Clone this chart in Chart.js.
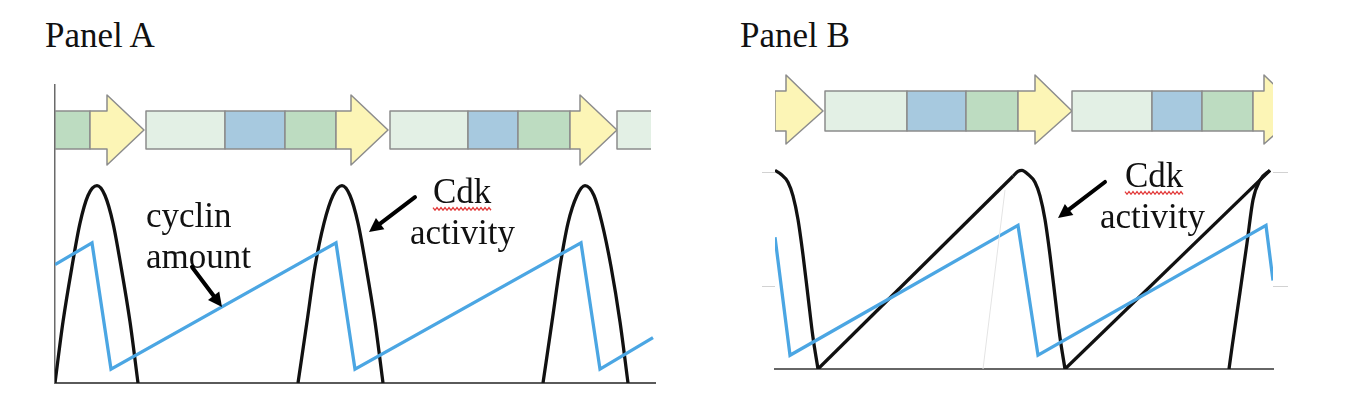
<!DOCTYPE html>
<html>
<head>
<meta charset="utf-8">
<script src="https://cdn.jsdelivr.net/npm/chart.js@4.4.1/dist/chart.umd.min.js"></script>
<style>
  body { margin: 0; background: #fff; width: 1345px; height: 410px; overflow: hidden; position: relative; }
  .title { position: absolute; top: 18px; font: 35px/1 "Liberation Serif", serif; color: #111; }
  canvas { position: absolute; top: 0; }
</style>
</head>
<body>
<div class="title" style="left:45px">Panel A</div>
<div class="title" style="left:740px">Panel B</div>
<canvas id="chartA" width="680" height="410" style="left:0"></canvas>
<canvas id="chartB" width="665" height="410" style="left:680px"></canvas>
<script>
// ---- Panel A data (time in arbitrary units, level in % of peak Cdk activity)
const aCyclinT = [0, 37, 56, 281, 300, 526, 545, 598];
const aCyclin = [60, 71, 7, 71, 7, 71, 7, 23];
const aPeak1T = [0, 8, 17, 25, 33, 42, 50, 58, 66, 75, 83];
const aPeak2T = [243, 252, 260, 269, 278, 287, 295, 303, 311, 320, 328];
const aPeak3T = [488, 497, 505, 513, 522, 530, 539, 547, 556, 565, 573];
const aPeakCdk = [0, 31, 59, 81, 95, 100, 95, 81, 59, 31, 0];
// cell cycle phases along the top
const aPhaseKind = ['G2', 'M', 'G1', 'S', 'G2', 'M', 'G1', 'S', 'G2', 'M', 'G1'];
const aPhaseStart = [0, 35, 91, 170, 230, 281, 335, 413, 463, 515, 562];
const aPhaseEnd = [35, 89, 170, 230, 281, 333, 413, 463, 515, 562, 640];

// ---- Panel B data
const bCyclinT = [0, 15, 243, 263, 491, 498];
const bCyclin = [67, 7, 73, 7, 73, 45];
const bFall1T = [0, 6, 13, 18, 23, 28, 33, 38, 43];
const bFall1 = [101, 99, 95, 88, 76, 58, 37, 16, 0];
const bRise1T = [43, 238];
const bRise1 = [0, 98];
const bFall2T = [238, 243, 247, 253, 260, 265, 270, 275, 280, 285, 290];
const bFall2 = [98, 100.5, 101, 99, 95, 88, 76, 58, 37, 16, 0];
const bRise2T = [290, 495];
const bRise2 = [0, 101];
const bRise3T = [454, 457, 465, 472, 478, 485, 495];
const bRise3 = [0, 11, 39, 64, 86, 96, 101];
const bGuideT = [208, 230];
const bGuide = [0, 91];
const bGridLevels = [42, 100];
const bPhaseKind = ['M', 'G1', 'S', 'G2', 'M', 'G1', 'S', 'G2', 'M'];
const bPhaseStart = [0, 50, 132, 191, 243, 297, 377, 427, 478];
const bPhaseEnd = [48, 132, 191, 243, 297, 377, 427, 478, 526];

// ---- annotations (in data units)
const aLabels = ['cyclin', 'amount', 'Cdk', 'activity'];
const aLabelT = [91, 91, 378, 355];
const aLabelLevel = [79, 58.3, 91.2, 70.4];
const aArrows = [[137, 58.8, 167, 38.5], [360, 94.2, 314, 76.5]];
const aSquiggle = [378, 437, 88.2];
const bLabels = ['Cdk', 'activity'];
const bLabelT = [350, 325];
const bLabelLevel = [92.5, 71.7];
const bArrows = [[330, 95.1, 283, 76.8]];
const bSquiggle = [350, 408, 89.5];

const BLUE = '#4ba6e3';
const BLACK = '#111';
const phaseColors = { G1: '#e3f0e5', S: '#a7c9df', G2: '#bddcc1', M: '#fcf5b6' };

function pts(t, v) {
  return t.map((x, i) => ({ x, y: v[i] }));
}

function line(t, v, color, curved, width) {
  return {
    data: pts(t, v),
    borderColor: color,
    borderWidth: width || 3.3,
    pointRadius: 0,
    fill: false,
    tension: 0,
    cubicInterpolationMode: curved ? 'monotone' : 'default'
  };
}

// Phase bar drawn with the chart's own scales
function phasePlugin(kinds, starts, ends, box) {
  return {
    id: 'phases',
    beforeDatasetsDraw(chart) {
      const { ctx, chartArea, scales: { x, y } } = chart;
      const bt = y.getPixelForValue(box.top), bb = y.getPixelForValue(box.bottom);
      const ht = y.getPixelForValue(box.headTop), hb = y.getPixelForValue(box.headBottom);
      const mid = (bt + bb) / 2;
      ctx.save();
      ctx.beginPath();
      ctx.rect(chartArea.left, 0, x.getPixelForValue(box.clipTo) - chartArea.left, chart.height);
      ctx.clip();
      ctx.lineWidth = 1.5;
      ctx.strokeStyle = '#8c8c8c';
      ctx.lineJoin = 'round';
      kinds.forEach((k, i) => {
        const x0 = x.getPixelForValue(starts[i]);
        const x1 = x.getPixelForValue(ends[i]);
        ctx.beginPath();
        if (k === 'M') {
          const xn = x.getPixelForValue(ends[i] - box.headLen);
          ctx.moveTo(x0, bt);
          ctx.lineTo(xn, bt);
          ctx.lineTo(xn, ht);
          ctx.lineTo(x1, mid);
          ctx.lineTo(xn, hb);
          ctx.lineTo(xn, bb);
          ctx.lineTo(x0, bb);
          ctx.closePath();
        } else {
          ctx.rect(x0, bt, x1 - x0, bb - bt);
        }
        ctx.fillStyle = phaseColors[k];
        ctx.fill();
        ctx.stroke();
      });
      ctx.restore();
    }
  };
}

// Labels, pointer arrows and the spell-check squiggle
function notePlugin(labels, lt, ll, arrows, squiggle) {
  return {
    id: 'notes',
    afterDatasetsDraw(chart) {
      const { ctx, scales: { x, y } } = chart;
      ctx.save();
      ctx.font = '35px "Liberation Serif", serif';
      ctx.fillStyle = '#111';
      ctx.textBaseline = 'alphabetic';
      labels.forEach((s, i) => ctx.fillText(s, x.getPixelForValue(lt[i]), y.getPixelForValue(ll[i])));

      // red wavy underline
      const sx0 = x.getPixelForValue(squiggle[0]), sx1 = x.getPixelForValue(squiggle[1]);
      const sy = y.getPixelForValue(squiggle[2]);
      ctx.beginPath();
      ctx.strokeStyle = '#e23a3a';
      ctx.lineWidth = 1.3;
      for (let px = sx0, k = 0; px <= sx1; px += 2, k++) {
        const py = sy + (k % 2 ? 1.3 : -1.3);
        if (k === 0) ctx.moveTo(px, py); else ctx.lineTo(px, py);
      }
      ctx.stroke();

      // arrows
      arrows.forEach(a => {
        const x0 = x.getPixelForValue(a[0]), y0 = y.getPixelForValue(a[1]);
        const x1 = x.getPixelForValue(a[2]), y1 = y.getPixelForValue(a[3]);
        const ang = Math.atan2(y1 - y0, x1 - x0);
        const hl = 14, hw = 7;
        const bx = x1 - hl * Math.cos(ang), by = y1 - hl * Math.sin(ang);
        ctx.beginPath();
        ctx.strokeStyle = '#000';
        ctx.lineWidth = 4;
        ctx.lineCap = 'round';
        ctx.moveTo(x0, y0);
        ctx.lineTo(bx, by);
        ctx.stroke();
        ctx.beginPath();
        ctx.fillStyle = '#000';
        ctx.moveTo(x1, y1);
        ctx.lineTo(bx + hw * Math.sin(ang), by - hw * Math.cos(ang));
        ctx.lineTo(bx - hw * Math.sin(ang), by + hw * Math.cos(ang));
        ctx.closePath();
        ctx.fill();
      });
      ctx.restore();
    }
  };
}

const hiddenTicks = { display: false };

// Panel A
new Chart(document.getElementById('chartA'), {
  type: 'line',
  data: {
    datasets: [
      line(aCyclinT, aCyclin, BLUE, false),
      line(aPeak1T, aPeakCdk, BLACK, true),
      line(aPeak2T, aPeakCdk, BLACK, true),
      line(aPeak3T, aPeakCdk, BLACK, true)
    ]
  },
  options: {
    responsive: false,
    animation: false,
    events: [],
    layout: { padding: { left: 55, right: 25, top: 85, bottom: 27 } },
    plugins: { legend: { display: false }, tooltip: { enabled: false } },
    scales: {
      x: {
        type: 'linear', min: 0, max: 600,
        ticks: hiddenTicks,
        grid: { drawOnChartArea: false, drawTicks: false },
        border: { color: '#5a5a5a', width: 2 }
      },
      y: {
        min: 0, max: 151,
        ticks: hiddenTicks,
        grid: { drawOnChartArea: false, drawTicks: false },
        border: { color: '#6a6a6a', width: 1.5 }
      }
    }
  },
  plugins: [
    phasePlugin(aPhaseKind, aPhaseStart, aPhaseEnd,
      { top: 137.8, bottom: 118.6, headTop: 145.9, headBottom: 110.5, headLen: 37, clipTo: 596 }),
    notePlugin(aLabels, aLabelT, aLabelLevel, aArrows, aSquiggle)
  ]
});

// Panel B
const gridStub = len => ({
  ticks: hiddenTicks,
  grid: { drawOnChartArea: false, drawTicks: true, tickLength: len, color: '#d2d2d2', lineWidth: 1 },
  border: { display: false },
  afterBuildTicks: s => { s.ticks = bGridLevels.map(v => ({ value: v })); }
});

new Chart(document.getElementById('chartB'), {
  type: 'line',
  data: {
    datasets: [
      line(bGuideT, bGuide, '#e4e4e4', false, 1),
      line(bCyclinT, bCyclin, BLUE, false),
      line(bFall1T, bFall1, BLACK, true),
      line(bRise1T, bRise1, BLACK, false),
      line(bFall2T, bFall2, BLACK, true),
      line(bRise2T, bRise2, BLACK, false),
      line(bRise3T, bRise3, BLACK, true)
    ]
  },
  options: {
    responsive: false,
    animation: false,
    events: [],
    layout: { padding: { left: 82, right: 57, top: 74, bottom: 41 } },
    plugins: { legend: { display: false }, tooltip: { enabled: false } },
    scales: {
      x: {
        type: 'linear', min: 0, max: 498,
        ticks: hiddenTicks,
        grid: { drawOnChartArea: false, drawTicks: false },
        border: { color: '#666', width: 2 }
      },
      y: Object.assign({ min: 0, max: 150, position: 'left' }, gridStub(13)),
      y2: Object.assign({ min: 0, max: 150, position: 'right' }, gridStub(15))
    }
  },
  plugins: [
    phasePlugin(bPhaseKind, bPhaseStart, bPhaseEnd,
      { top: 141.4, bottom: 121.0, headTop: 149.5, headBottom: 114.4, headLen: 37, clipTo: 498 }),
    notePlugin(bLabels, bLabelT, bLabelLevel, bArrows, bSquiggle)
  ]
});
</script>
</body>
</html>
